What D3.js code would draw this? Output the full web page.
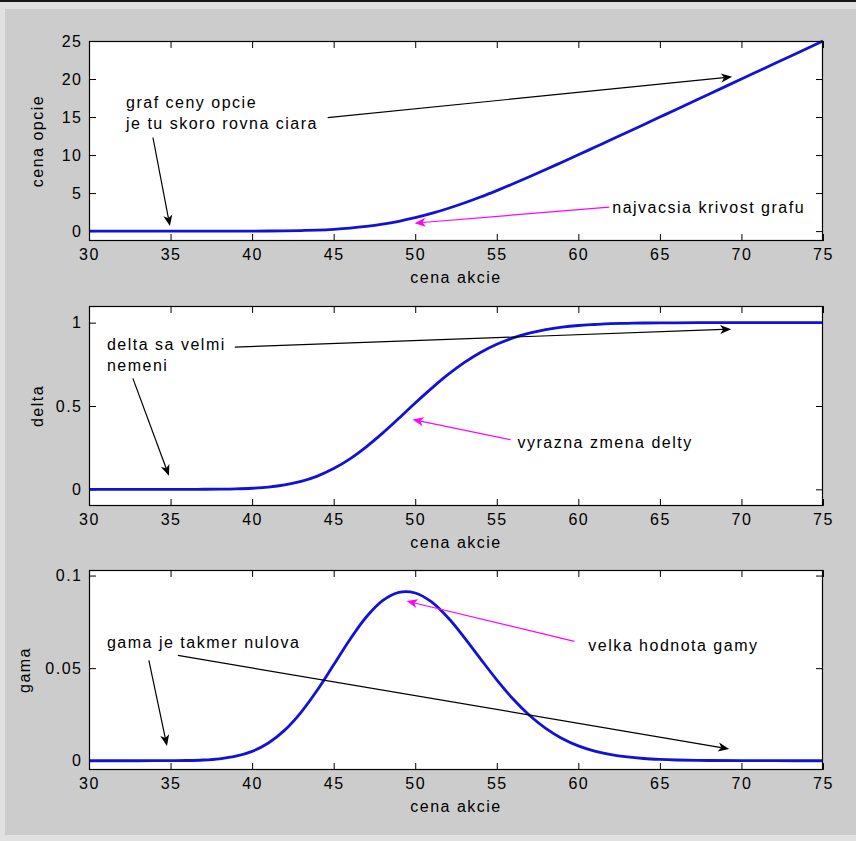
<!DOCTYPE html>
<html>
<head>
<meta charset="utf-8">
<script src="https://cdn.jsdelivr.net/npm/d3@7"></script>
<style>
body { margin: 0; background: #cccccc; }
svg text { font-family: "Liberation Sans", Arial, sans-serif; font-size: 16px; letter-spacing: 1.5px; fill: #000; }
</style>
</head>
<body>
<svg id="chart"></svg>
<script>
// stock price (x) and the three curves
const stockPrice = [30, 32, 34, 36, 37, 38, 39, 40, 41, 42, 43, 44, 45, 46, 47, 48, 49, 50, 51, 52, 53,
  54, 55, 56, 57, 58, 59, 60, 61, 62, 63, 64, 65, 66, 68, 70, 72, 75];
const optionPrice = [0, 0, 0, 0, 0.0003, 0.001, 0.003, 0.007, 0.017, 0.037, 0.074, 0.138, 0.24, 0.393, 0.612,
  0.908, 1.29, 1.76, 2.32, 2.97, 3.69, 4.48, 5.33, 6.22, 7.14, 8.09, 9.06, 10.03, 11.02, 12.01, 13.01, 14.0,
  15.0, 16.0, 18.0, 20.0, 22.0, 25.0];
const deltaValues = [0, 0, 0, 0.0001, 0.0004, 0.0011, 0.0027, 0.0064, 0.0135, 0.0264, 0.0475, 0.0794, 0.1245,
  0.183, 0.255, 0.337, 0.426, 0.518, 0.606, 0.688, 0.76, 0.821, 0.87, 0.909, 0.937, 0.958, 0.973, 0.983, 0.989,
  0.994, 0.996, 0.998, 0.999, 0.9993, 0.9998, 1, 1, 1];
const gammaValues = [0, 0, 0.00001, 0.00014, 0.00041, 0.00106, 0.00245, 0.00508, 0.0096, 0.01654, 0.02616,
  0.03818, 0.05183, 0.0655, 0.07763, 0.08648, 0.09094, 0.09058, 0.08574, 0.07731, 0.06667, 0.05504, 0.04368,
  0.03334, 0.02456, 0.01748, 0.01205, 0.00805, 0.00523, 0.00331, 0.00204, 0.00122, 0.00072, 0.00041, 0.00012,
  0.00003, 0.00001, 0];

const xTicks = [30, 35, 40, 45, 50, 55, 60, 65, 70, 75];
const xLabel = "cena akcie";
const yLabels = ["cena opcie", "delta", "gama"];
const yDomains = [[-1.3, 25], [-0.1, 1.1], [-0.005, 0.103]];
const yTicks = [[0, 5, 10, 15, 20, 25], [0, 0.5, 1], [0, 0.05, 0.1]];

// annotations, in data units of each panel
const notes = [
  [{ lines: ["graf ceny opcie", "je tu skoro rovna ciara"], at: [32.27, 16.2] },
   { lines: ["najvacsia krivost grafu"], at: [62.08, 2.43] }],
  [{ lines: ["delta sa velmi", "nemeni"], at: [31.1, 0.838] },
   { lines: ["vyrazna zmena delty"], at: [56.27, 0.25] }],
  [{ lines: ["gama je takmer nulova"], at: [31.1, 0.0607] },
   { lines: ["velka hodnota gamy"], at: [60.61, 0.059] }]
];
const arrows = [
  [{ from: [44.63, 14.92], to: [69.43, 20.29], pink: false },
   { from: [33.92, 12.31], to: [34.96, 0.66], pink: false },
   { from: [61.9, 3.15], to: [49.96, 1.05], pink: true }],
  [{ from: [38.94, 0.853], to: [69.37, 0.961], pink: false },
   { from: [32.69, 0.666], to: [34.9, 0.081], pink: false },
   { from: [55.84, 0.298], to: [49.84, 0.419], pink: true }],
  [{ from: [35.45, 0.0569], to: [69.25, 0.0064], pink: false },
   { from: [33.67, 0.0542], to: [34.78, 0.008], pink: false },
   { from: [59.76, 0.0645], to: [49.47, 0.0862], pink: true }]
];

const series = [optionPrice, deltaValues, gammaValues];

const W = 856, H = 841;
const left = 89, right = 823, plotH = 200;
const tops = [41, 306, 570];
const yLabelX = [43, 43, 30];

const svg = d3.select("#chart").attr("width", W).attr("height", H);

// window frame
svg.append("rect").attr("width", W).attr("height", H).attr("fill", "#e1e1e1");
svg.append("rect").attr("x", 5).attr("y", 9).attr("width", W - 5).attr("height", 826).attr("fill", "#cccccc");
svg.append("rect").attr("width", W).attr("height", 2).attr("fill", "#1a1a1a");

const x = d3.scaleLinear().domain([30, 75]).range([left, right]);

function arrowHead(g, x1, y1, x2, y2, color) {
  const a = Math.atan2(y2 - y1, x2 - x1);
  const L = 11, w = 4.5, n = 8;
  const pt = (d, s) => [x2 - d * Math.cos(a) - s * Math.sin(a), y2 - d * Math.sin(a) + s * Math.cos(a)];
  const pts = [[x2, y2], pt(L, w), pt(n, 0), pt(L, -w)];
  g.append("polygon").attr("points", pts.map(p => p.join(",")).join(" ")).attr("fill", color);
  return pt(n, 0);
}

series.forEach(function (values, i) {
  const top = tops[i], bottom = top + plotH;
  const y = d3.scaleLinear().domain(yDomains[i]).range([bottom, top]);
  const g = svg.append("g");

  g.append("rect").attr("x", left).attr("y", top).attr("width", right - left).attr("height", plotH)
    .attr("fill", "#fff");

  const fmt = d => String(d);
  g.append("g").attr("transform", "translate(0," + bottom + ")")
    .call(d3.axisBottom(x).tickValues(xTicks).tickSizeInner(-7).tickSizeOuter(0).tickPadding(8).tickFormat(fmt));
  g.append("g").attr("transform", "translate(0," + top + ")")
    .call(d3.axisTop(x).tickValues(xTicks).tickSizeInner(-7).tickSizeOuter(0).tickFormat(""));
  g.append("g").attr("transform", "translate(" + left + ",0)")
    .call(d3.axisLeft(y).tickValues(yTicks[i]).tickSizeInner(-7).tickSizeOuter(0).tickPadding(6.5).tickFormat(fmt));
  g.append("g").attr("transform", "translate(" + right + ",0)")
    .call(d3.axisRight(y).tickValues(yTicks[i]).tickSizeInner(-7).tickSizeOuter(0).tickFormat(""));

  g.selectAll(".domain").remove();
  g.selectAll(".tick line").attr("stroke", "#000");
  g.selectAll("g").attr("font-size", null).attr("font-family", null);

  // curve
  const line = d3.line().x((d, k) => x(stockPrice[k])).y(d => y(d)).curve(d3.curveCatmullRom);
  g.append("path").datum(values).attr("d", line).attr("fill", "none")
    .attr("stroke", "#1212d6").attr("stroke-width", 2.8).attr("stroke-linejoin", "round");

  g.append("rect").attr("x", left + 0.5).attr("y", top + 0.5).attr("width", right - left - 1)
    .attr("height", plotH - 1).attr("fill", "none").attr("stroke", "#000").attr("stroke-width", 1.2);

  // labels
  g.append("text").attr("x", (left + right) / 2).attr("y", bottom + 42).attr("text-anchor", "middle").text(xLabel);
  g.append("text").attr("transform", "translate(" + yLabelX[i] + "," + (top + plotH / 2) + ") rotate(-90)")
    .attr("text-anchor", "middle").text(yLabels[i]);

  // annotations
  notes[i].forEach(function (n) {
    const t = g.append("text").attr("x", x(n.at[0])).attr("y", y(n.at[1]));
    n.lines.forEach((s, k) => t.append("tspan").attr("x", x(n.at[0])).attr("dy", k ? 21.5 : 0).text(s));
  });
  arrows[i].forEach(function (a) {
    const color = a.pink ? "#ff00ff" : "#000";
    const x1 = x(a.from[0]), y1 = y(a.from[1]), x2 = x(a.to[0]), y2 = y(a.to[1]);
    const back = arrowHead(g, x1, y1, x2, y2, color);
    g.append("line").attr("x1", x1).attr("y1", y1).attr("x2", back[0]).attr("y2", back[1])
      .attr("stroke", color).attr("stroke-width", 1.2);
  });
});
</script>
</body>
</html>
